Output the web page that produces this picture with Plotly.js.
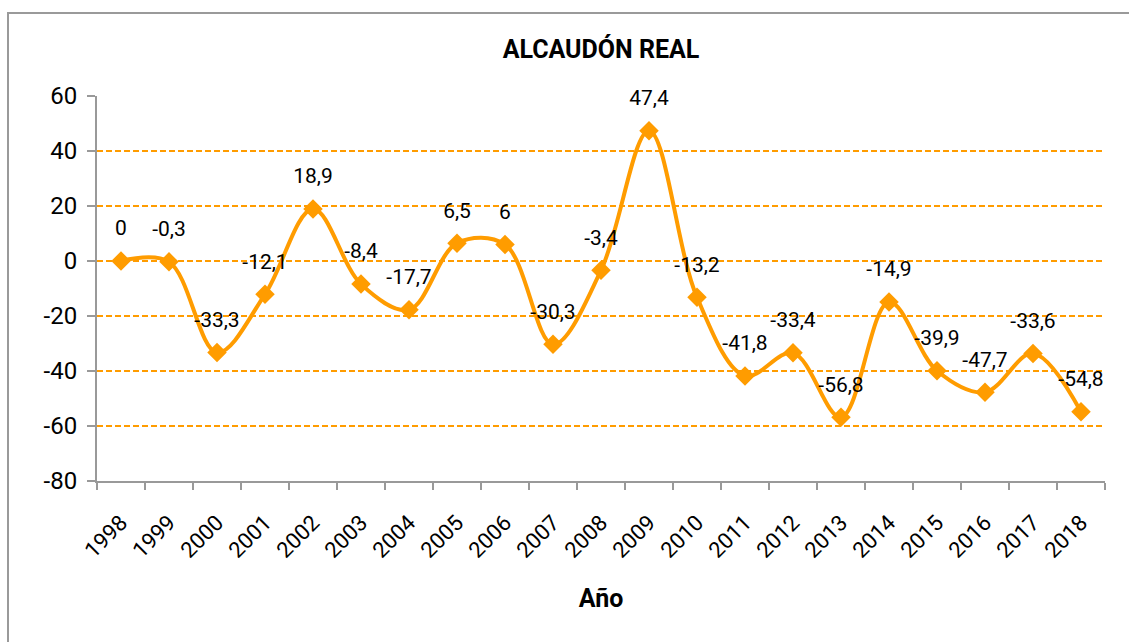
<!DOCTYPE html>
<html>
<head>
<meta charset="utf-8">
<script src="https://cdn.plot.ly/plotly-3.0.1.min.js"></script>
<style>
  html, body { margin: 0; padding: 0; background: #fff; }
  #chart { width: 1129px; height: 642px; position: absolute; left: 0; top: 0; }
  #frame { position: absolute; left: 7px; top: 12px; width: 1140px; height: 660px; border: 2px solid #9a9a9a; pointer-events: none; }
</style>
</head>
<body>
<div id="chart"></div>
<div id="frame"></div>
<script>
const years = ["1998","1999","2000","2001","2002","2003","2004","2005","2006","2007","2008","2009","2010","2011","2012","2013","2014","2015","2016","2017","2018"];
const values = [0, -0.3, -33.3, -12.1, 18.9, -8.4, -17.7, 6.5, 6, -30.3, -3.4, 47.4, -13.2, -41.8, -33.4, -56.8, -14.9, -39.9, -47.7, -33.6, -54.8];
const yTicks = [-80, -60, -40, -20, 0, 20, 40, 60];

const labels = values.map(v => String(v).replace('.', ','));
const orange = '#FF9C00';
const fontFam = 'Roboto, "DejaVu Sans", sans-serif';

const lineTrace = {
  x: years,
  y: values,
  type: 'scatter',
  mode: 'lines+markers',
  line: { color: orange, width: 4, shape: 'spline', smoothing: 1 },
  marker: { symbol: 'diamond', size: 15, color: orange },
  cliponaxis: false,
  hoverinfo: 'x+y'
};

// data labels, positioned above the points (invisible, larger markers for offset)
const labelTrace = {
  x: years,
  y: values,
  type: 'scatter',
  mode: 'markers+text',
  marker: { size: 31, opacity: 0, color: orange },
  text: labels,
  textposition: 'top center',
  textfont: { family: fontFam, size: 21, color: '#000' },
  cliponaxis: false,
  hoverinfo: 'skip'
};

const layout = {
  width: 1129,
  height: 642,
  margin: { l: 97, r: 24, t: 96, b: 161 },
  paper_bgcolor: '#fff',
  plot_bgcolor: '#fff',
  showlegend: false,
  title: { text: '<b>ALCAUDÓN REAL</b>', font: { family: fontFam, size: 25, color: '#000' }, x: 0.5, xanchor: 'center', xref: 'paper', y: 0.923, yanchor: 'middle' },
  font: { family: fontFam, color: '#000' },
  xaxis: {
    type: 'category',
    tickangle: -45,
    tickson: 'boundaries',
    ticks: 'outside',
    ticklen: 7,
    tickcolor: '#999',
    tickwidth: 2,
    showline: true,
    linecolor: '#999',
    linewidth: 2,
    showgrid: false,
    zeroline: false,
    tickfont: { family: fontFam, size: 22, color: '#000' },
    ticklabelstandoff: 18,
    title: { text: '<b>Año</b>', font: { family: fontFam, size: 25, color: '#000' }, standoff: 28 },
    range: [-0.5, 20.5]
  },
  yaxis: {
    range: [-80, 60],
    tickvals: yTicks,
    ticktext: yTicks.map(String),
    ticks: 'outside',
    ticklen: 8,
    tickcolor: '#999',
    tickwidth: 2,
    showline: true,
    linecolor: '#999',
    linewidth: 2,
    showgrid: true,
    gridcolor: orange,
    gridwidth: 1.8,
    griddash: '6px,3px',
    zeroline: false,
    tickfont: { family: fontFam, size: 24, color: '#000' },
    ticklabelstandoff: 5
  }
};

Plotly.newPlot('chart', [lineTrace, labelTrace], layout, { displayModeBar: false, staticPlot: true });
</script>
</body>
</html>
